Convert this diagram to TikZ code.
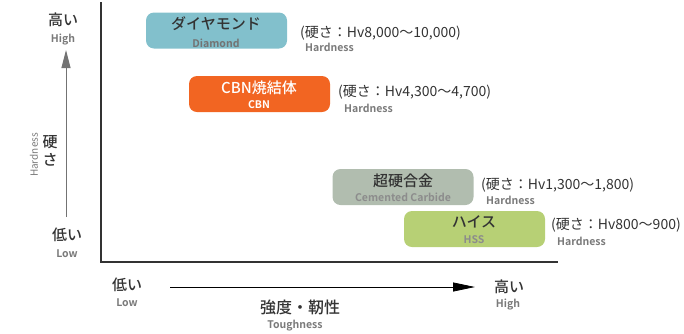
\documentclass[tikz,border=0pt]{standalone}
\usepackage{fontspec}
\setmainfont{Noto Sans CJK JP}[BoldFont={Noto Sans CJK JP Bold}]
\newfontfamily\medfont{Noto Sans CJK JP Medium}
\usetikzlibrary{arrows.meta,positioning}
\definecolor{diamondc}{HTML}{82C0CC}
\definecolor{cbnc}{HTML}{F26522}
\definecolor{carbidec}{HTML}{B1BDAF}
\definecolor{hssc}{HTML}{B7D075}
\definecolor{darktext}{HTML}{333333}
\definecolor{subgray}{HTML}{7A7A7A}
\tikzstyle{tool}=[rounded corners=8pt,minimum width=141pt,minimum height=36pt,inner sep=0pt]
\tikzstyle{jp}=[inner sep=0pt,text=darktext,font=\medfont\fontsize{15}{15}\selectfont]
\tikzstyle{en}=[inner sep=0pt,text=subgray,font=\bfseries\fontsize{10.5}{10.5}\selectfont]
\tikzstyle{hv}=[inner sep=0pt,anchor=west,text=darktext,font=\fontsize{14}{14}\selectfont]
\tikzstyle{hven}=[inner sep=0pt,anchor=west,text=subgray,font=\bfseries\fontsize{10.5}{10.5}\selectfont]

\begin{document}
\begin{tikzpicture}[x=1pt,y=-1pt]
  \useasboundingbox (0,0) rectangle (684,333);

  % frame
  \coordinate (top) at (101,2);
  \coordinate (origin) at (101,262);
  \coordinate (end) at (558,262);
  \draw[darktext, line width=1.4pt] (top) -- (origin) -- (end);

  % hardness axis
  \coordinate (vlow) at (66,217);
  \coordinate (vhigh) at (66,50);
  \draw[gray!90!black, line width=1pt, -{Triangle[length=18pt,width=9pt]}] (vlow) -- (vhigh);
  \node[jp] (hhigh) at (63,20) {高い};
  \node[en] (hhighE) at (63,40) {High};
  \node[jp] (hlow) at (67,235) {低い};
  \node[en] (hlowE) at (67,254) {Low};
  \node[jp, align=center, font=\medfont\fontsize{15}{18}\selectfont] (hlabel) at (50,151) {硬\\さ};
  \node[en, rotate=90, font=\fontsize{10}{10}\selectfont] (hlabelE) at (34,155) {Hardness};

  % toughness axis
  \coordinate (tlow) at (170,287);
  \coordinate (thigh) at (475,287);
  \draw[black, line width=0.8pt, -{Triangle[length=22pt,width=9pt]}] (tlow) -- (thigh);
  \node[jp] (tl) at (127,285) {低い};
  \node[en] (tlE) at (127,303) {Low};
  \node[jp] (th) at (509,287) {高い};
  \node[en] (thE) at (508,305) {High};
  \node[jp, font=\medfont\fontsize{16}{16}\selectfont] (tlabel) at (300,307) {強度・靭性};
  \node[en] (tlabelE) at (295,326) {Toughness};

  % tools
  \node[tool, fill=diamondc] (dia) at (216.5,30.5) {};
  \node[jp] at (216,24) {ダイヤモンド};
  \node[en, text=black!55] at (216,43) {Diamond};
  \node[hv] (diahv) at (300,33) {(硬さ：Hv8,000～10,000)};
  \node[hven] at (305,47) {Hardness};

  \node[tool, fill=cbnc] (cbn) at (259.5,94) {};
  \node[jp, text=white] at (259,88) {CBN焼結体};
  \node[en, text=white] at (259,105) {CBN};
  \node[hv] (cbnhv) at (338,92) {(硬さ：Hv4,300～4,700)};
  \node[hven] at (344,108) {Hardness};

  \node[tool, fill=carbidec] (cem) at (403,187) {};
  \node[jp] at (403,181) {超硬合金};
  \node[en, text=black!45] at (403,197) {Cemented Carbide};
  \node[hv] (cemhv) at (481,185) {(硬さ：Hv1,300～1,800)};
  \node[hven] at (486,200) {Hardness};

  \node[tool, fill=hssc] (hss) at (474.5,229) {};
  \node[jp] at (474,222) {ハイス};
  \node[en, text=black!45] at (474,240) {HSS};
  \node[hv] (hsshv) at (551,225) {(硬さ：Hv800～900)};
  \node[hven] at (557,241) {Hardness};
\end{tikzpicture}
\end{document}
